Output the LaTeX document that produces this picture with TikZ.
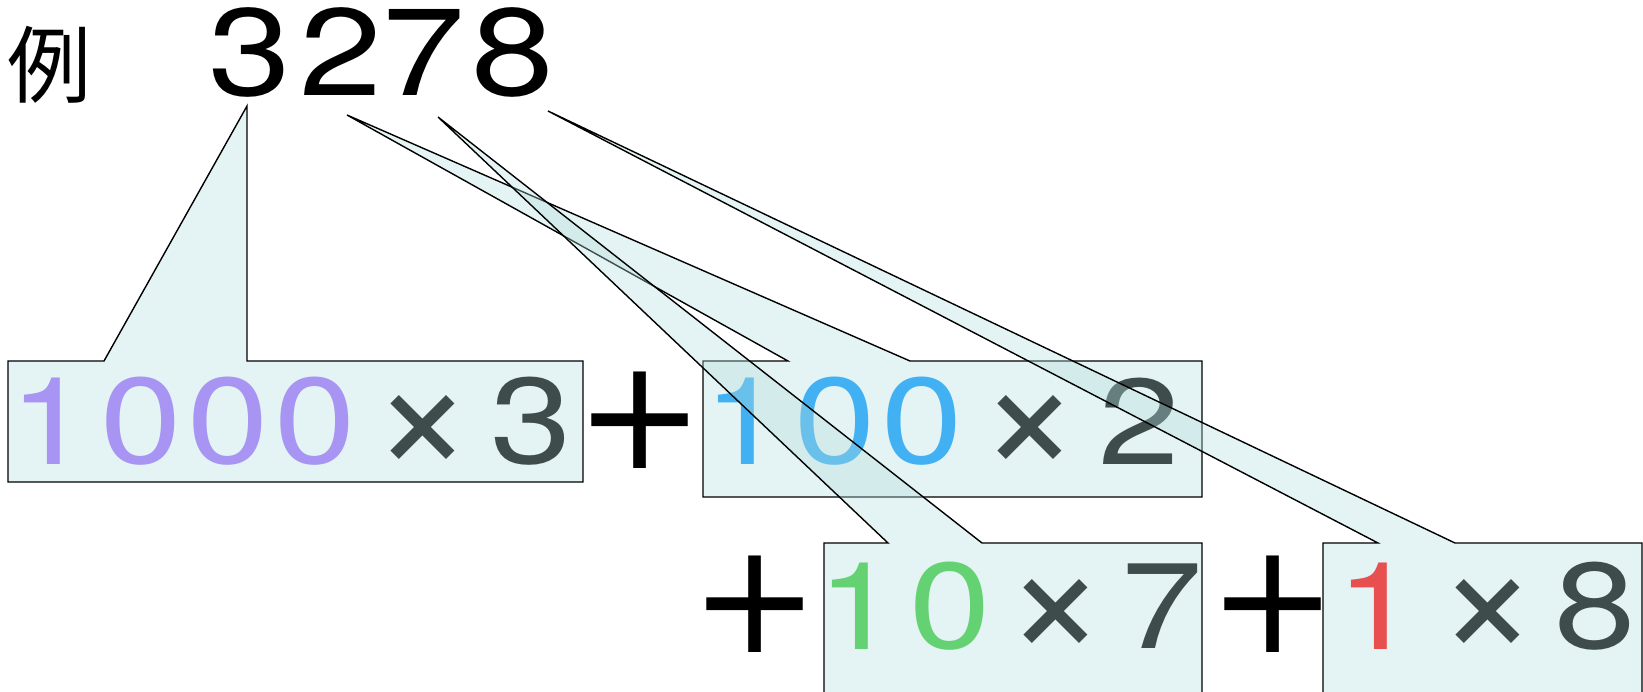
\documentclass[tikz,border=0pt]{standalone}
\usepackage{fontspec}
\setmainfont{TeX Gyre Heros}
\newfontfamily\cjk{Noto Sans CJK JP}
\newfontfamily\plusfont{DejaVu Sans}
\usetikzlibrary{calc}
\definecolor{bubblefill}{HTML}{B2DDDD}
\definecolor{thou}{HTML}{A894F2}
\definecolor{hund}{HTML}{42B1F4}
\definecolor{tens}{HTML}{64D273}
\definecolor{ones}{HTML}{E85050}
\definecolor{slate}{HTML}{3F4C4C}
\newcommand\wg[1]{\scalebox{1.2}[1]{#1}}

\begin{document}
\begin{tikzpicture}[
  x=0.5pt, y=-0.5pt,
  glyph/.style={inner sep=0pt, font=\fontsize{61}{61}\selectfont},
  bigglyph/.style={inner sep=0pt, font=\fontsize{62}{62}\selectfont},
  timesign/.style={inner sep=0pt, text=slate, font=\fontsize{88}{88}\selectfont},
  plussign/.style={inner sep=0pt, font=\plusfont\fontsize{77}{77}\selectfont},
  bubble/.style={draw=black, line width=0.7pt, fill=bubblefill, fill opacity=0.35},
]
\useasboundingbox (0,0) rectangle (1643,691);
\clip (0,0) rectangle (1643,691);

% the number
\node[inner sep=0pt, font=\cjk\fontsize{42}{42}\selectfont] (rei) at (50,65) {例};
\node[bigglyph] (d3) at (250,52) {\wg{3}};
\node[bigglyph] (d2) at (341,52) {\wg{2}};
\node[bigglyph] (d7) at (424,52) {\wg{7}};
\node[bigglyph] (d8) at (513,52) {\wg{8}};
\coordinate (tip3) at (247,106);
\coordinate (tip2) at (347,115);
\coordinate (tip7) at (438,117);
\coordinate (tip8) at (548,111);

% 1000 x 3
\draw[bubble] (8,361) -- (104,361) -- (tip3) -- (247,361) -- (583,361) -- (583,482) -- (8,482) -- cycle;
\node[glyph, text=thou] (k1) at (50,421) {\wg{1}};
\node[glyph, text=thou] (k2) at (141,421) {\wg{0}};
\node[glyph, text=thou] (k3) at (228,421) {\wg{0}};
\node[glyph, text=thou] (k4) at (315,421) {\wg{0}};
\node[timesign] (kx) at (423,433) {×};
\node[glyph, text=slate] (kd) at (531,421) {\wg{3}};
\node[plussign] (p1) at (640,420) {+};

% 100 x 2
\draw[bubble] (703,361) -- (788,361) -- (tip2) -- (910,361) -- (1202,361) -- (1202,497) -- (703,497) -- cycle;
\node[glyph, text=hund] (h1) at (744,421) {\wg{1}};
\node[glyph, text=hund] (h2) at (835,421) {\wg{0}};
\node[glyph, text=hund] (h3) at (922,421) {\wg{0}};
\node[timesign] (hx) at (1030,433) {×};
\node[glyph, text=slate] (hd) at (1139,421) {\wg{2}};
\node[plussign] (p2) at (755,604) {+};

% 10 x 7
\draw[bubble] (824,543) -- (888,543) -- (tip7) -- (982,543) -- (1202,543) -- (1202,700) -- (824,700) -- cycle;
\node[glyph, text=tens] (t1) at (858,606) {\wg{1}};
\node[glyph, text=tens] (t2) at (950,606) {\wg{0}};
\node[timesign] (tx) at (1056,617) {×};
\node[glyph, text=slate] (td) at (1162,606) {\wg{7}};
\node[plussign] (p3) at (1273,604) {+};

% 1 x 8
\draw[bubble] (1323,543) -- (1378,543) -- (tip8) -- (1455,543) -- (1642,543) -- (1642,700) -- (1323,700) -- cycle;
\node[glyph, text=ones] (o1) at (1377,606) {\wg{1}};
\node[timesign] (ox) at (1488,617) {×};
\node[glyph, text=slate] (od) at (1595,606) {\wg{8}};
\end{tikzpicture}
\end{document}
